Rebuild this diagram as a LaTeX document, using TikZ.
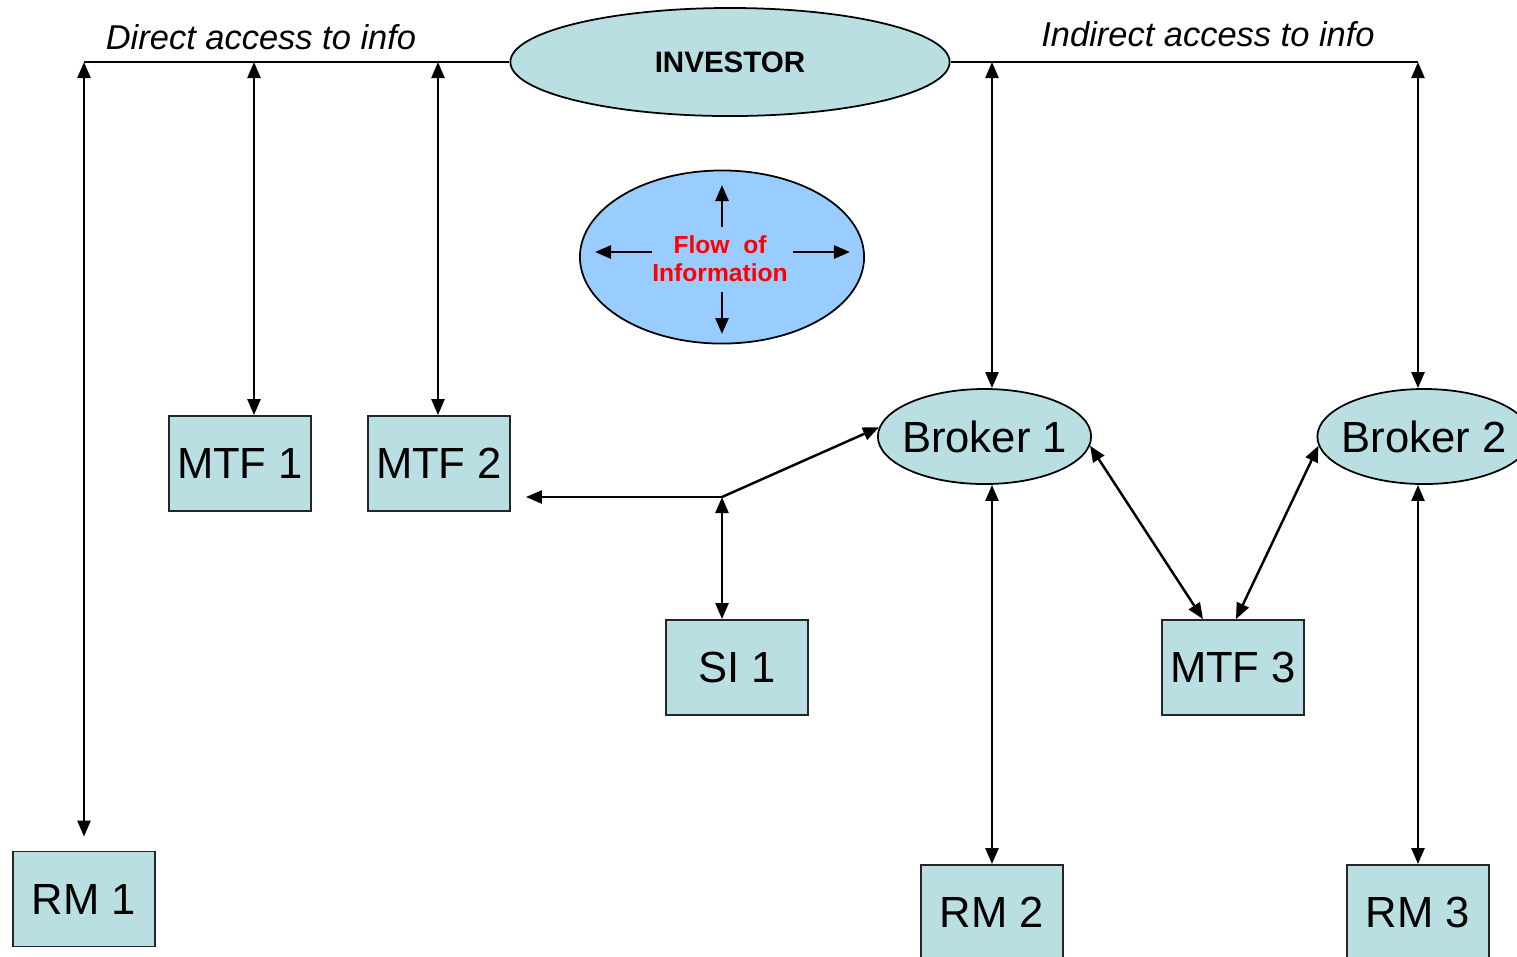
\documentclass[tikz,border=0pt]{standalone}
\usepackage{fontspec}
\setmainfont{Liberation Sans}
\usepackage{tikz}
\usetikzlibrary{shapes.geometric}
\usetikzlibrary{arrows.meta}
\definecolor{tealcolor}{RGB}{185,223,227}
\definecolor{skycolor}{RGB}{153,204,255}

\begin{document}
\begin{tikzpicture}[x=0.01cm, y=-0.01cm, >={Triangle[length=0.16cm, width=0.13cm]},
  box/.style={draw=black!85, line width=0.5pt, fill=tealcolor, minimum width=1.42cm, minimum height=0.95cm, inner sep=0pt, font=\fontsize{12.4}{14}\selectfont},
  oval/.style={draw, ellipse, line width=0.5pt, fill=tealcolor, inner sep=0pt},
  broker/.style={oval, inner xsep=-0.07cm, minimum width=2.13cm, minimum height=0.95cm, font=\fontsize{12.4}{14}\selectfont},
  link/.style={<->, line width=0.7pt},
  label/.style={font=\itshape\fontsize{9.8}{12}\selectfont}]

% Page size of the slide
\clip (0,0) rectangle (1517,956);

% Investor on top
\node[oval, minimum width=4.39cm, minimum height=1.08cm, font=\bfseries\fontsize{8.4}{10}\selectfont] (inv) at (730,62) {INVESTOR};
\node[label] (direct) at (261,37) {Direct access to info};
\node[label] (indirect) at (1208,34) {Indirect access to info};

% Flow of information
\node[draw, ellipse, line width=0.5pt, fill=skycolor, minimum width=2.84cm, minimum height=1.73cm] (flow) at (722,257) {};
\node[text=red, align=center, font=\bfseries\fontsize{7}{7.9}\selectfont] (flowtext) at (720,259) {Flow\ \ of\\Information};
\draw[->, line width=0.8pt] (flow.center) ++(0,-30) -- ++(0,-42);
\draw[->, line width=0.8pt] (flow.center) ++(0,35) -- ++(0,42);
\draw[->, line width=0.8pt] (flow.center) ++(-70,-5) -- ++(-57,0);
\draw[->, line width=0.8pt] (flow.center) ++(71,-5) -- ++(57,0);

% Markets
\node[box] (mtf1) at (240,463.5) {MTF 1};
\node[box] (mtf2) at (439,463.5) {MTF 2};
\node[box] (si1) at (737,667.5) {SI 1};
\node[box] (mtf3) at (1233,667.5) {MTF 3};
\node[box] (rm1) at (84,899) {RM 1};
\node[box] (rm2) at (992,912.5) {RM 2};
\node[box] (rm3) at (1418,912.5) {RM 3};

% Brokers
\node[broker] (broker1) at (984.5,436.5) {Broker 1};
\node[broker] (broker2) at (1424,436.5) {Broker 2};

% Top line
\coordinate (tl) at (84,62);
\coordinate (t1) at (254,62);
\coordinate (t2) at (438,62);
\coordinate (t3) at (992,62);
\coordinate (tr) at (1418,62);
\draw[line width=0.4pt] (inv.west) -- (tl);
\draw[line width=0.4pt] (inv.east) -- (tr);

% Direct access
\draw[link, shorten >=0.14cm] (tl) -- (rm1.north);
\draw[link] (t1) -- (t1 |- mtf1.north);
\draw[link] (t2) -- (t2 |- mtf2.north);

% Indirect access
\draw[link] (t3) -- (t3 |- broker1.north);
\draw[link] (tr) -- (tr |- broker2.north);
\draw[link] (broker1.south -| rm2.north) -- (rm2.north);
\draw[link] (broker2.south -| rm3.north) -- (rm3.north);
\draw[link] (broker1.-5) -- ([xshift=-0.3cm]mtf3.north);
\draw[link] (broker2.185) -- ([xshift=0.03cm]mtf3.north);

% SI 1 junction
\coordinate (j) at (722,497);
\draw[link] (j) -- (j |- si1.north);
\draw[->, line width=0.7pt, shorten >=0.15cm] (j) -- (j -| mtf2.east);
\draw[->, line width=0.7pt] (j) -- (broker1.175);

\end{tikzpicture}
\end{document}
